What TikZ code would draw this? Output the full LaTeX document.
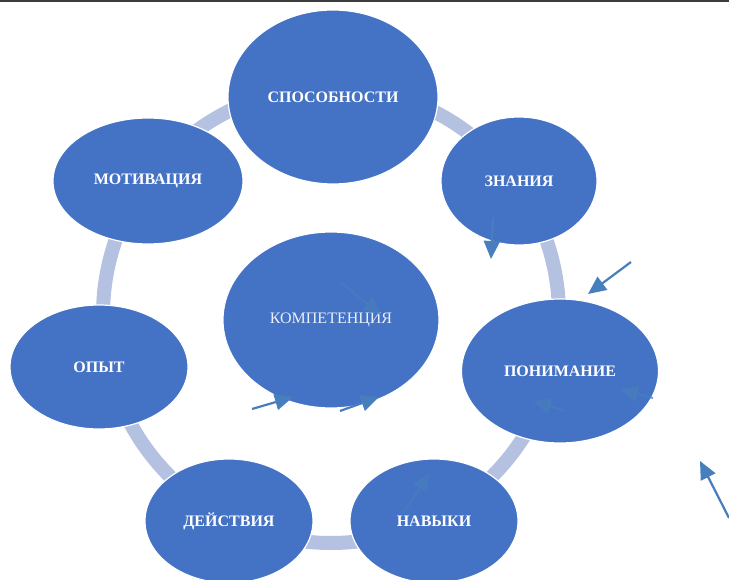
\documentclass[tikz,border=0pt]{standalone}
\usepackage{fontspec}
\setmainfont{Liberation Serif}
\usetikzlibrary{shapes.geometric,arrows.meta}
\definecolor{ellblue}{RGB}{68,114,196}
\definecolor{ringc}{RGB}{180,193,225}
\definecolor{arrc}{RGB}{70,126,190}
\definecolor{framec}{RGB}{60,60,60}
\tikzset{
  bub/.style={ellipse, fill=ellblue, draw=white, line width=1.2pt, text=white,
    font=\fontsize{16}{18}\selectfont\bfseries, inner sep=0pt},
  arr/.style={draw=arrc, line width=2.2pt, -{Triangle[length=18pt,width=16pt]}},
  farr/.style={arr, opacity=0.7},
}
\begin{document}
\begin{tikzpicture}[x=1pt,y=-1pt]
\useasboundingbox (0,0) rectangle (729,580);
\fill[white] (0,0) rectangle (729,580);
\draw[framec, line width=2pt] (0,1) -- (729,1);
\coordinate (ctr) at (331,315);
\draw[ringc, line width=14pt] (ctr) circle[radius=228];
\node[bub, minimum width=210, minimum height=174] (spos) at (333,97) {СПОСОБНОСТИ};
\node[bub, minimum width=156, minimum height=128] (znan) at (519,181) {ЗНАНИЯ};
\node[bub, minimum width=197, minimum height=144] (ponim) at (560,371) {ПОНИМАНИЕ};
\node[bub, minimum width=168, minimum height=124] (navyk) at (434,521) {НАВЫКИ};
\node[bub, minimum width=168, minimum height=124] (deist) at (229,521) {ДЕЙСТВИЯ};
\node[bub, minimum width=178, minimum height=124] (opyt) at (99,367) {ОПЫТ};
\node[bub, minimum width=190, minimum height=126] (motiv) at (148,181) {МОТИВАЦИЯ};
\node[bub, minimum width=216, minimum height=176, font=\fontsize{16}{18}\selectfont, text=white!88!ellblue] (komp) at (331,320) {КОМПЕТЕНЦИЯ};
% arrows
\coordinate (a1s) at (493,218); \coordinate (a1e) at (491,259);
\coordinate (a2s) at (631,262); \coordinate (a2e) at (588,294);
\coordinate (a3s) at (653,398); \coordinate (a3e) at (620,389);
\coordinate (a4s) at (565,411); \coordinate (a4e) at (533,401);
\coordinate (a5s) at (342,283); \coordinate (a5e) at (381,315);
\coordinate (a6s) at (252,409); \coordinate (a6e) at (293,397);
\coordinate (a7s) at (340,411); \coordinate (a7e) at (379,397);
\coordinate (a8s) at (403,513); \coordinate (a8e) at (430,473);
\coordinate (a9s) at (729,518); \coordinate (a9e) at (700,461);
\draw[arr] (a1s) -- (a1e);
\draw[arr] (a2s) -- (a2e);
\draw[farr] (a3s) -- (a3e);
\draw[farr] (a4s) -- (a4e);
\draw[farr] (a5s) -- (a5e);
\draw[arr] (a6s) -- (a6e);
\draw[arr] (a7s) -- (a7e);
\draw[farr] (a8s) -- (a8e);
\draw[arr] (a9s) -- (a9e);
\end{tikzpicture}
\end{document}
